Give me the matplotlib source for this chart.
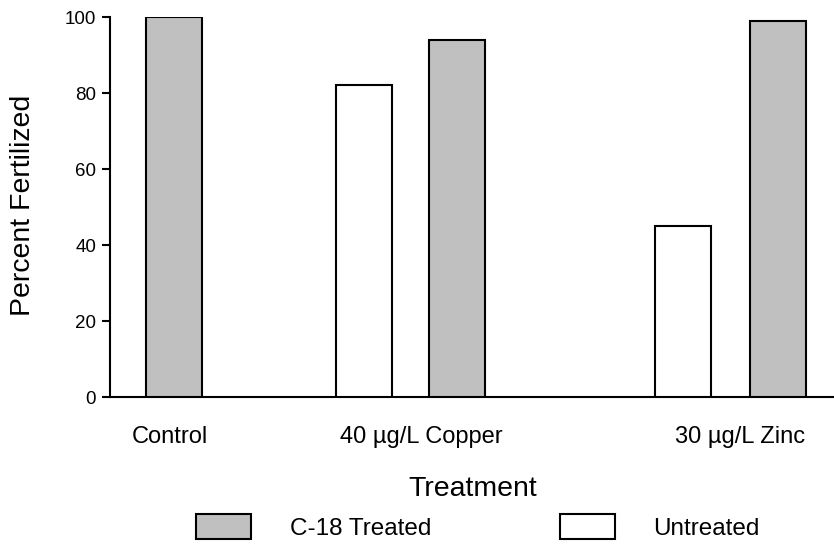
import matplotlib.pyplot as plt
from matplotlib.patches import Patch

plt.rcParams["font.family"] = ["Liberation Sans", "DejaVu Sans"]

# Fertilization results (%)
treatments = ["Control", "40 \u00b5g/L Copper", "30 \u00b5g/L Zinc"]
c18_treated = [100, 94, 99]
untreated = [None, 82, 45]   # no untreated sample for the control

# Bar layout along the x axis (axis runs 0..724)
x_c18 = [64, 346.5, 668]
x_untr = [253.5, 572.5]
x_labels = [60, 311, 630]
BAR_W = 56
GRAY = "#c0c0c0"

fig = plt.figure(figsize=(8.34, 5.48), dpi=100)
ax = fig.add_axes([110 / 834, 151 / 548, 724 / 834, 380 / 548])

ax.bar(x_c18, c18_treated, width=BAR_W, color=GRAY, edgecolor="black",
       linewidth=1.5, zorder=3)
ax.bar(x_untr, [v for v in untreated if v is not None], width=BAR_W,
       color="white", edgecolor="black", linewidth=1.5, zorder=3)

ax.set_xlim(0, 724)
ax.set_ylim(0, 100)
ax.set_yticks(range(0, 101, 20))
ax.set_xticks(x_labels)
ax.set_xticklabels(treatments, fontsize=17)
ax.tick_params(axis="x", length=0, pad=21)
ax.tick_params(axis="y", length=6, width=1.5, labelsize=13.5, pad=4)

for side in ("top", "right"):
    ax.spines[side].set_visible(False)
for side in ("left", "bottom"):
    ax.spines[side].set_linewidth(1.5)

ax.set_ylabel("Percent Fertilized", fontsize=20.5)
ax.yaxis.set_label_coords(-0.102, 0.505)
fig.text(473 / 834, 1 - 489 / 548, "Treatment", fontsize=20.5,
         ha="center", va="center")

handles = [Patch(facecolor=GRAY, edgecolor="black", linewidth=1.5),
           Patch(facecolor="white", edgecolor="black", linewidth=1.5)]
fig.legend(handles, ["C-18 Treated", "Untreated"], loc="center",
           bbox_to_anchor=(478 / 834, 1 - 527 / 548), ncol=2, frameon=False,
           fontsize=17.5, handlelength=2.25, handleheight=1.18,
           handletextpad=1.6, columnspacing=5.3, borderpad=0)

fig.savefig("out.png", dpi=100)
